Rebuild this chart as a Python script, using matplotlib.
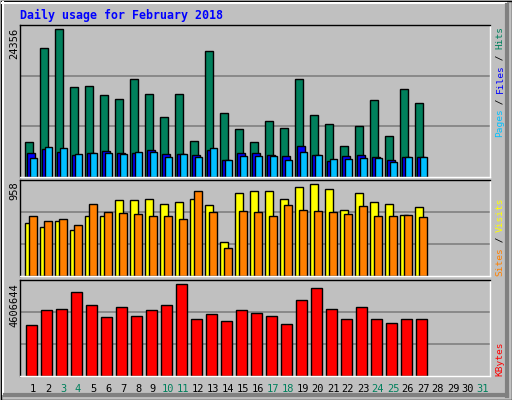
import matplotlib
matplotlib.use("Agg")
import matplotlib.pyplot as plt
import numpy as np

days = list(range(1, 32))
weekend = [3, 4, 10, 11, 17, 18, 24, 25, 31]

hits = [5730, 21250, 24356, 14880, 15040, 13570, 12910, 16180, 13730, 9800, 13730, 5890,
        20740, 10460, 7850, 5730, 9150, 8000, 16180, 10130, 8660, 5070, 8330, 12590, 6700, 14550, 12100]
files = [3930, 4580, 4090, 3600, 3930, 4250, 3930, 3930, 4410, 3760, 3760, 3600,
         4410, 2780, 3930, 3930, 3600, 3430, 5070, 3600, 2620, 3430, 3600, 3270, 2780, 3270, 3270]
pages = [3110, 4900, 4740, 3760, 3930, 3930, 3760, 4090, 4090, 3270, 3760, 3270,
         4740, 2780, 3430, 3430, 3430, 2780, 4090, 3600, 2940, 2940, 3110, 3110, 2450, 3270, 3270]
visits = [559, 507, 570, 486, 622, 622, 797, 797, 808, 755, 776, 808, 745, 360, 871, 892,
          892, 808, 934, 958, 913, 692, 871, 776, 755, 636, 720]
sites = [632, 580, 591, 538, 755, 671, 661, 650, 629, 629, 598, 892, 671, 297, 682, 671,
         629, 745, 692, 682, 671, 650, 734, 629, 629, 640, 619]
kbytes = [2540, 3340, 3390, 4200, 3560, 2960, 3460, 3010, 3310, 3560, 4606, 2860,
          3110, 2770, 3310, 3160, 3010, 2610, 3810, 4410, 3390, 2860, 3490, 2860, 2660, 2860, 2860]
kbytes = [k * 1000 for k in kbytes]

C_HITS, C_FILES, C_PAGES = "#00805c", "#0000ff", "#00c0ff"
C_VISITS, C_SITES, C_KB = "#ffff00", "#ff8000", "#ff0000"
BG = "#c0c0c0"
W, H = 512, 400

fig = plt.figure(figsize=(5.12, 4.0), dpi=100, facecolor=BG)

# background / frame in pixel coords
bg = fig.add_axes([0, 0, 1, 1], zorder=0)
bg.set_xlim(0, W)
bg.set_ylim(H, 0)
bg.axis("off")
bg.plot([2, 506], [2.5, 2.5], color="white", lw=1.5)
bg.plot([2.5, 2.5], [2, 394], color="white", lw=1.5)
bg.plot([507, 507], [5, 396], color="#808080", lw=3)
bg.plot([5, 507], [395, 395], color="#808080", lw=3)
bg.add_patch(plt.Rectangle((0.5, 0.5), W - 1, H - 1, fill=False, ec="black", lw=1))
bg.text(20, 15, "Daily usage for February 2018", color="#0000ff", fontsize=8.4,
        family="DejaVu Sans Mono", weight="bold", va="center", ha="left")

x = np.arange(len(hits))
X0 = 25  # pixel x of first bar
def px(off):
    return X0 + 15 * x + off

def panel(top, bottom, vmax, frac):
    ax = fig.add_axes([20 / W, 1 - bottom / H, 470 / W, (bottom - top) / H], zorder=1)
    ax.set_facecolor(BG)
    ax.set_xlim(20, 490)
    ax.set_ylim(0, vmax * frac)
    ax.set_xticks([])
    ax.set_yticks([])
    for s in ax.spines.values():
        s.set_color("black")
        s.set_linewidth(1)
    ax.spines["bottom"].set_color("white")
    ax.spines["right"].set_color("white")
    for f in (1 / 3, 2 / 3):
        ax.axhline(vmax * frac * f, color="#808080", lw=1.2, zorder=0)
    return ax

kw = dict(edgecolor="black", linewidth=1, align="edge", zorder=2)

a1 = panel(25, 177, 24356, 153 / 149)
a1.bar(px(0.3), hits, 7.4, color=C_HITS, **kw)
a1.bar(px(2), files, 7.5, color=C_FILES, **kw)
a1.bar(px(4.5), pages, 7.2, color=C_PAGES, **kw)

a2 = panel(180, 276, 958, 287 / 274)
a2.bar(px(0.3), visits, 7.4, color=C_VISITS, **kw)
a2.bar(px(4.3), sites, 7.4, color=C_SITES, **kw)

a3 = panel(280, 376, 4606644, 287 / 274)
a3.bar(px(1.3), kbytes, 10.2, color=C_KB, **kw)

mono = "DejaVu Sans Mono"
for lbl, y in [("24356", 28), ("958", 181), ("4606644", 283)]:
    bg.text(14, y, lbl, rotation=90, fontsize=7.5, family=mono, ha="center", va="top")

for d in days:
    bg.text(33 + 15 * (d - 1), 389, str(d), fontsize=7.5, family=mono, ha="center", va="center",
            color=C_HITS if d in weekend else "black")

def side(segs, ybottom, step=5.5):
    y = ybottom
    for txt, col in segs:
        bg.text(500, y, txt, rotation=90, fontsize=6.8, family=mono, color=col,
                ha="center", va="bottom")
        y -= step * len(txt)

side([("Pages", C_PAGES), (" / ", "black"), ("Files", C_FILES), (" / ", "black"), ("Hits", C_HITS)], 137)
side([("Sites", C_SITES), (" / ", "black"), ("Visits", C_VISITS)], 276)
side([("KBytes", C_KB)], 376)

fig.savefig("out.png", dpi=100, facecolor=BG)
